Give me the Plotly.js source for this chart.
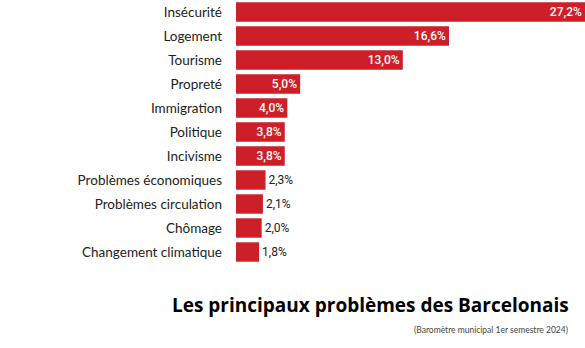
<!DOCTYPE html>
<html>
<head>
<meta charset="utf-8">
<script src="https://cdn.plot.ly/plotly-3.0.1.min.js"></script>
<style>html,body{margin:0;padding:0;background:#fff;}#chart{width:585px;height:348px;}</style>
</head>
<body>
<div id="chart"></div>
<script>
const categories = ["Insécurité","Logement","Tourisme","Propreté","Immigration","Politique","Incivisme","Problèmes économiques","Problèmes circulation","Chômage","Changement climatique"];
const values = [27.2,16.6,13.0,5.0,4.0,3.8,3.8,2.3,2.1,2.0,1.8];
const valueLabels = ["27,2%","16,6%","13,0%","5,0%","4,0%","3,8%","3,8%","2,3%","2,1%","2,0%","1,8%"];
const title = "Les principaux problèmes des Barcelonais";
const subtitle = "(Baromètre municipal 1er semestre 2024)";

const insideThreshold = 3.5;
const positions = values.map(v => v >= insideThreshold ? "inside" : "outside");

const trace = {
  type: "bar",
  orientation: "h",
  y: categories,
  x: values,
  text: valueLabels,
  textposition: positions,
  insidetextanchor: "end",
  insidetextfont: {family: "Roboto", size: 12, color: "#ffffff", weight: 500},
  outsidetextfont: {family: "Roboto", size: 12, color: "#222222"},
  textangle: 0,
  constraintext: "none",
  cliponaxis: false,
  marker: {color: "#cd1f27"},
  hoverinfo: "none"
};

const layout = {
  width: 585, height: 348,
  margin: {l: 236, r: 0, t: 0, b: 84},
  paper_bgcolor: "#ffffff",
  plot_bgcolor: "#ffffff",
  bargap: 0.19,
  showlegend: false,
  xaxis: {range: [0, 27.2], visible: false, fixedrange: true},
  yaxis: {
    autorange: "reversed",
    showgrid: false, zeroline: false, showline: false,
    ticks: "", ticklabelstandoff: 13,
    tickfont: {family: "Lato", size: 13.5, color: "#222222"},
    fixedrange: true
  },
  annotations: [
    {text: "<b>" + title + "</b>", xref: "paper", yref: "paper",
     x: (571 - 236) / 349, y: -(305 - 264) / 264, xanchor: "right", yanchor: "middle",
     showarrow: false, font: {family: "Open Sans", size: 19, color: "#000000", weight: 800}},
    {text: subtitle, xref: "paper", yref: "paper",
     x: (570 - 236) / 349, y: -(330 - 264) / 264, xanchor: "right", yanchor: "middle",
     showarrow: false, font: {family: "Lato", size: 8.5, color: "#444444"}}
  ]
};

Plotly.newPlot("chart", [trace], layout, {displayModeBar: false, staticPlot: true});
</script>
</body>
</html>
